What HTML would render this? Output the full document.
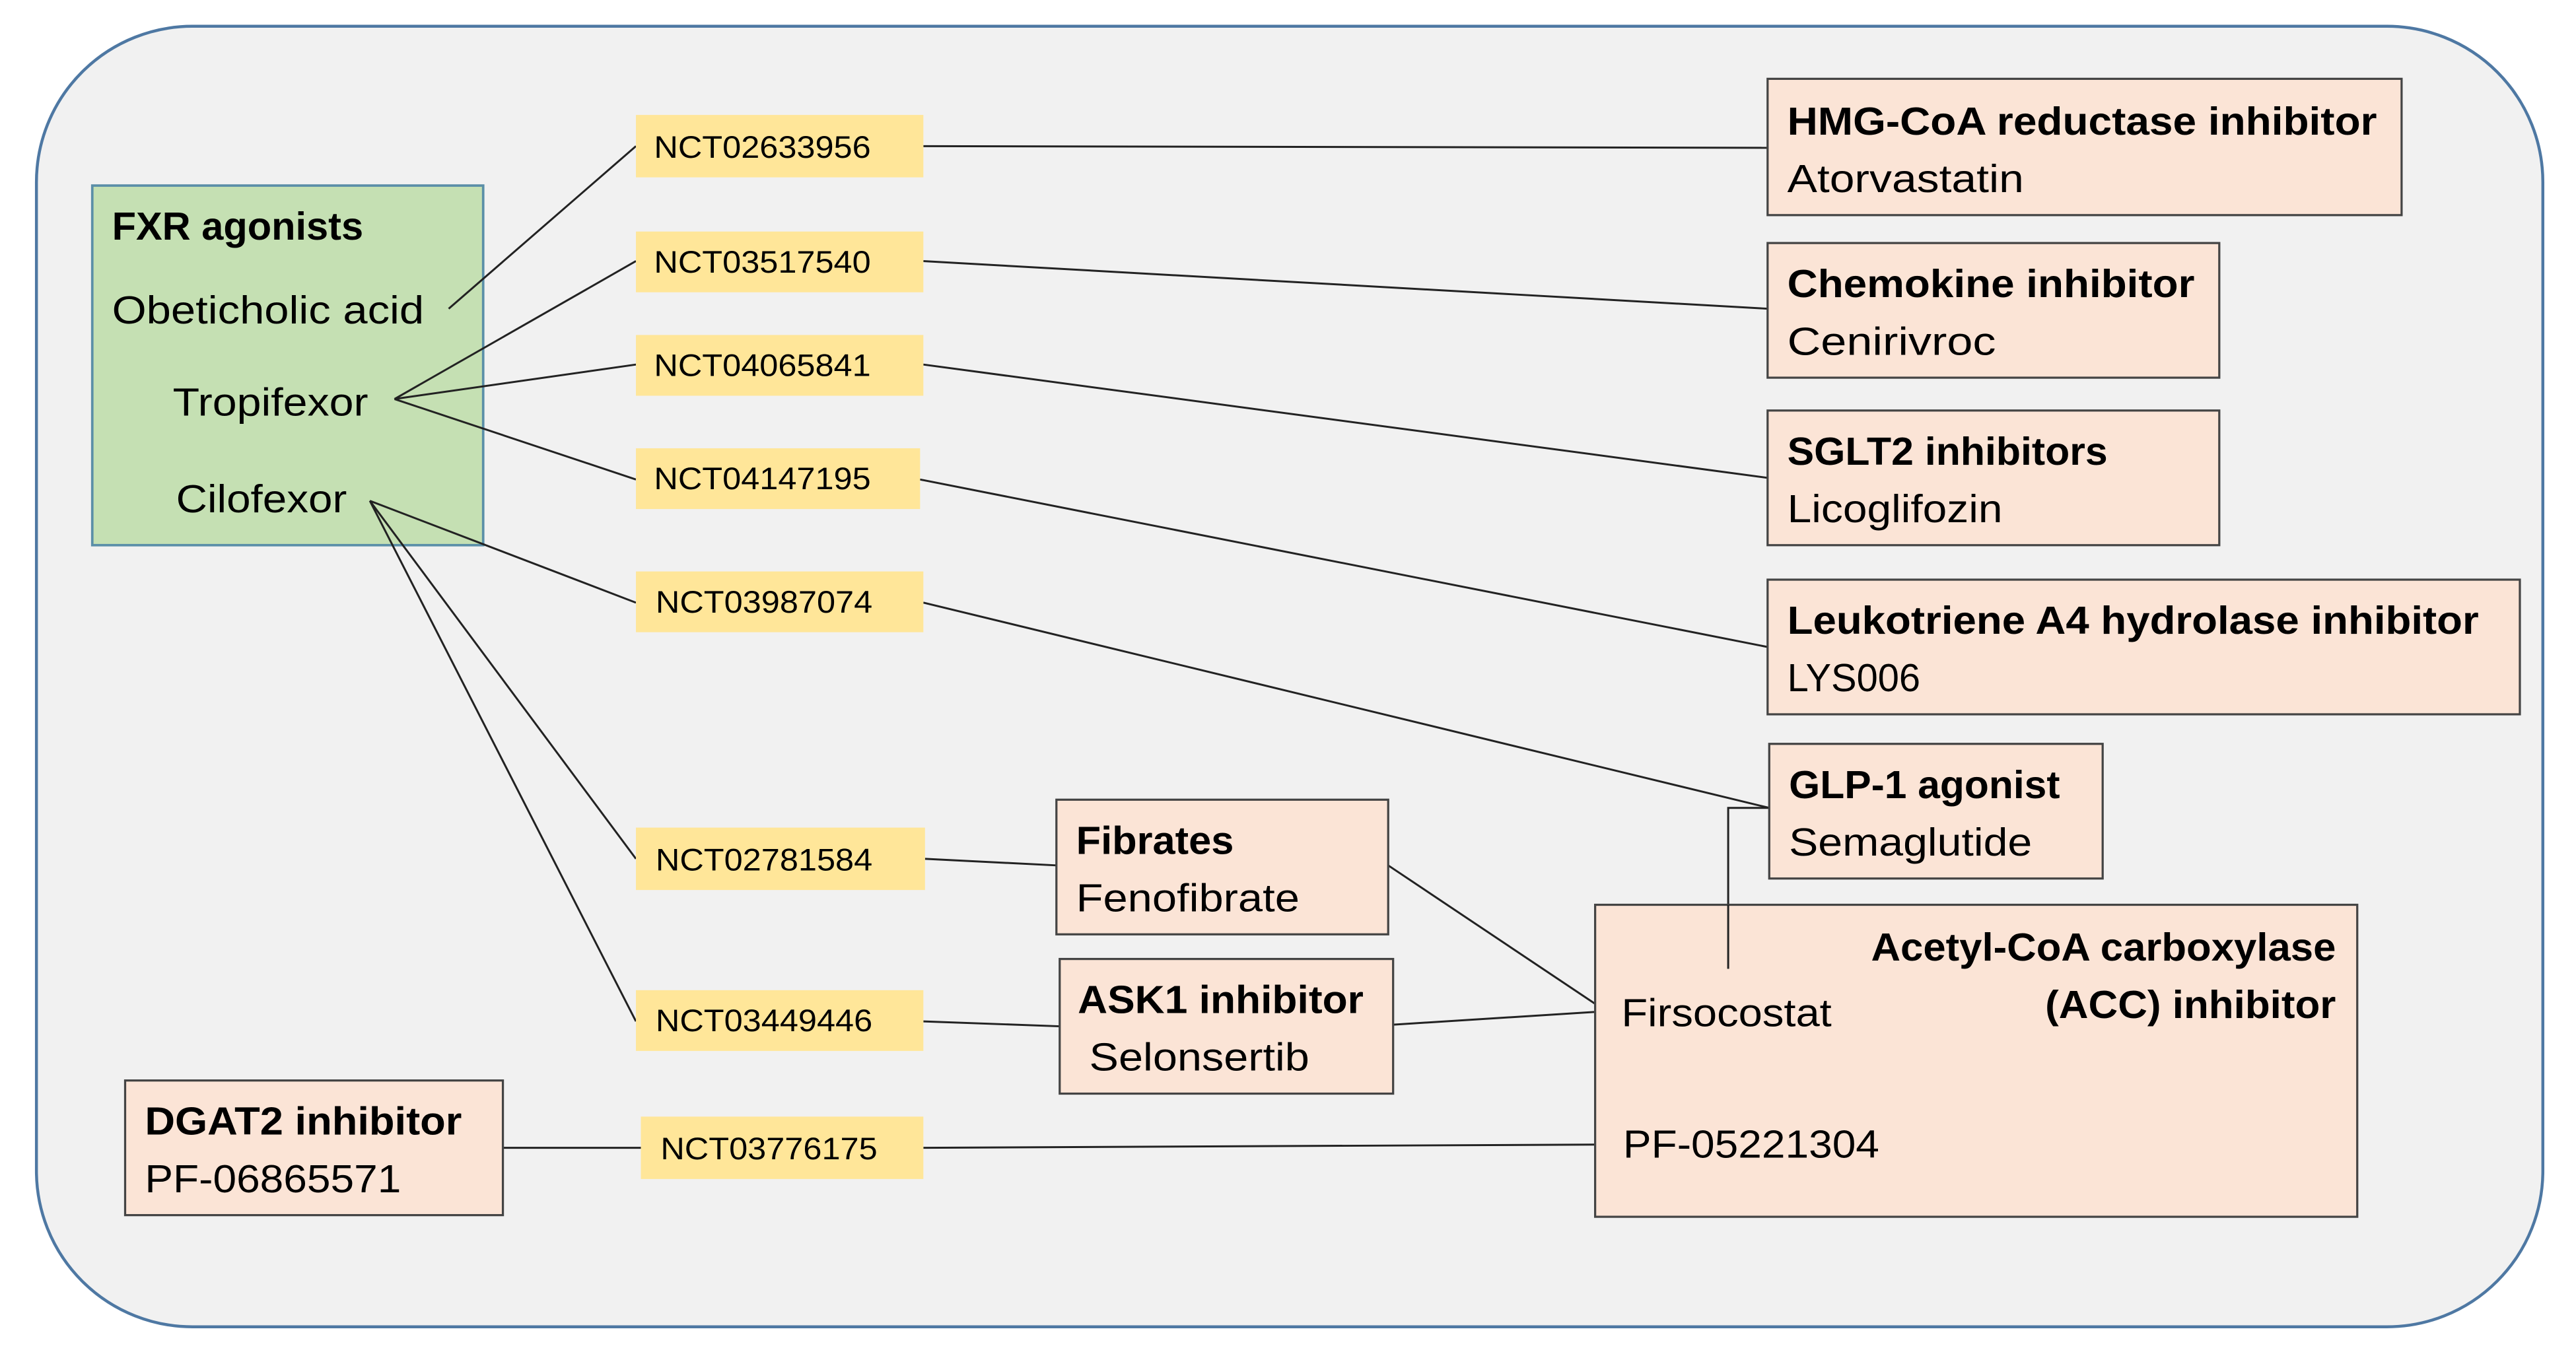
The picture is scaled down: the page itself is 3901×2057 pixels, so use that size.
<!DOCTYPE html>
<html><head><meta charset="utf-8"><style>
html,body{margin:0;padding:0;background:#fff;}
svg{display:block;}
text{font-family:"Liberation Sans",sans-serif;fill:#000;}
.b{font-weight:bold;font-size:24px;}
.r{font-size:24px;}
.n{font-size:19px;}
</style></head><body>
<svg width="3901" height="2057" viewBox="0 0 1568 827" xmlns="http://www.w3.org/2000/svg">
<rect x="0" y="0" width="1568" height="827" fill="#fff"/>
<rect x="22" y="16" width="1526" height="792" rx="95" ry="95" fill="#f1f1f1" stroke="#4e78a3" stroke-width="1.8"/>
<rect x="56" y="113" width="238" height="219" fill="#c5e0b3" stroke="#5b8fa8" stroke-width="1.5"/>
<g stroke="#222" stroke-width="1.2" fill="none">
<line x1="273" y1="188" x2="387" y2="89"/>
<line x1="562" y1="89" x2="1076" y2="90"/>
<line x1="240" y1="243" x2="387" y2="159"/>
<line x1="240" y1="243" x2="387" y2="222"/>
<line x1="240" y1="243" x2="387" y2="292"/>
<line x1="562" y1="159" x2="1076" y2="188"/>
<line x1="562" y1="222" x2="1076" y2="291"/>
<line x1="560" y1="292" x2="1076" y2="394"/>
<line x1="225" y1="305" x2="387" y2="367"/>
<line x1="225" y1="305" x2="387" y2="523"/>
<line x1="225" y1="305" x2="387" y2="622"/>
<line x1="562" y1="367" x2="1077" y2="492"/>
<polyline points="1077,492 1052,492 1052,590"/>
<line x1="563" y1="523" x2="643" y2="527"/>
<line x1="562" y1="622" x2="645" y2="625"/>
<line x1="845" y1="527" x2="975" y2="614"/>
<line x1="848" y1="624" x2="975" y2="616"/>
<line x1="306" y1="699" x2="390" y2="699"/>
<line x1="562" y1="699" x2="975" y2="697"/>
</g>
<text class="b" x="68" y="146" textLength="153" lengthAdjust="spacingAndGlyphs">FXR agonists</text>
<text class="r" x="68" y="197" textLength="190" lengthAdjust="spacingAndGlyphs">Obeticholic acid</text>
<text class="r" x="105" y="253" textLength="119" lengthAdjust="spacingAndGlyphs">Tropifexor</text>
<text class="r" x="107" y="312" textLength="104" lengthAdjust="spacingAndGlyphs">Cilofexor</text>
<g fill="#ffe699">
<rect x="387" y="70" width="175" height="38"/>
<rect x="387" y="141" width="175" height="37"/>
<rect x="387" y="204" width="175" height="37"/>
<rect x="387" y="273" width="173" height="37"/>
<rect x="387" y="348" width="175" height="37"/>
<rect x="387" y="504" width="176" height="38"/>
<rect x="387" y="603" width="175" height="37"/>
<rect x="390" y="680" width="172" height="38"/>
</g>
<text class="n" x="398" y="96" textLength="132" lengthAdjust="spacingAndGlyphs">NCT02633956</text>
<text class="n" x="398" y="166" textLength="132" lengthAdjust="spacingAndGlyphs">NCT03517540</text>
<text class="n" x="398" y="229" textLength="132" lengthAdjust="spacingAndGlyphs">NCT04065841</text>
<text class="n" x="398" y="298" textLength="132" lengthAdjust="spacingAndGlyphs">NCT04147195</text>
<text class="n" x="399" y="373" textLength="132" lengthAdjust="spacingAndGlyphs">NCT03987074</text>
<text class="n" x="399" y="530" textLength="132" lengthAdjust="spacingAndGlyphs">NCT02781584</text>
<text class="n" x="399" y="628" textLength="132" lengthAdjust="spacingAndGlyphs">NCT03449446</text>
<text class="n" x="402" y="706" textLength="132" lengthAdjust="spacingAndGlyphs">NCT03776175</text>
<g fill="#fbe4d6" stroke="#444" stroke-width="1.3">
<rect x="1076" y="48" width="386" height="83"/>
<rect x="1076" y="148" width="275" height="82"/>
<rect x="1076" y="250" width="275" height="82"/>
<rect x="1076" y="353" width="458" height="82"/>
<rect x="1077" y="453" width="203" height="82"/>
<rect x="643" y="487" width="202" height="82"/>
<rect x="645" y="584" width="203" height="82"/>
<rect x="76" y="658" width="230" height="82"/>
<rect x="971" y="551" width="464" height="190"/>
</g>
<line x1="1052" y1="551" x2="1052" y2="590" stroke="#222" stroke-width="1.2"/>
<text class="b" x="1088" y="82" textLength="359" lengthAdjust="spacingAndGlyphs">HMG-CoA reductase inhibitor</text>
<text class="r" x="1088" y="117" textLength="144" lengthAdjust="spacingAndGlyphs">Atorvastatin</text>
<text class="b" x="1088" y="181" textLength="248" lengthAdjust="spacingAndGlyphs">Chemokine inhibitor</text>
<text class="r" x="1088" y="216" textLength="127" lengthAdjust="spacingAndGlyphs">Cenirivroc</text>
<text class="b" x="1088" y="283" textLength="195" lengthAdjust="spacingAndGlyphs">SGLT2 inhibitors</text>
<text class="r" x="1088" y="318" textLength="131" lengthAdjust="spacingAndGlyphs">Licoglifozin</text>
<text class="b" x="1088" y="386" textLength="421" lengthAdjust="spacingAndGlyphs">Leukotriene A4 hydrolase inhibitor</text>
<text class="r" x="1088" y="421" textLength="81" lengthAdjust="spacingAndGlyphs">LYS006</text>
<text class="b" x="1089" y="486" textLength="165" lengthAdjust="spacingAndGlyphs">GLP-1 agonist</text>
<text class="r" x="1089" y="521" textLength="148" lengthAdjust="spacingAndGlyphs">Semaglutide</text>
<text class="b" x="655" y="520" textLength="96" lengthAdjust="spacingAndGlyphs">Fibrates</text>
<text class="r" x="655" y="555" textLength="136" lengthAdjust="spacingAndGlyphs">Fenofibrate</text>
<text class="b" x="656" y="617" textLength="174" lengthAdjust="spacingAndGlyphs">ASK1 inhibitor</text>
<text class="r" x="663" y="652" textLength="134" lengthAdjust="spacingAndGlyphs">Selonsertib</text>
<text class="b" x="88" y="691" textLength="193" lengthAdjust="spacingAndGlyphs">DGAT2 inhibitor</text>
<text class="r" x="88" y="726" textLength="156" lengthAdjust="spacingAndGlyphs">PF-06865571</text>
<text class="b" x="1139" y="585" textLength="283" lengthAdjust="spacingAndGlyphs">Acetyl-CoA carboxylase</text>
<text class="b" x="1245" y="620" textLength="177" lengthAdjust="spacingAndGlyphs">(ACC) inhibitor</text>
<text class="r" x="987" y="625" textLength="128" lengthAdjust="spacingAndGlyphs">Firsocostat</text>
<text class="r" x="988" y="705" textLength="156" lengthAdjust="spacingAndGlyphs">PF-05221304</text>
</svg>
</body></html>
